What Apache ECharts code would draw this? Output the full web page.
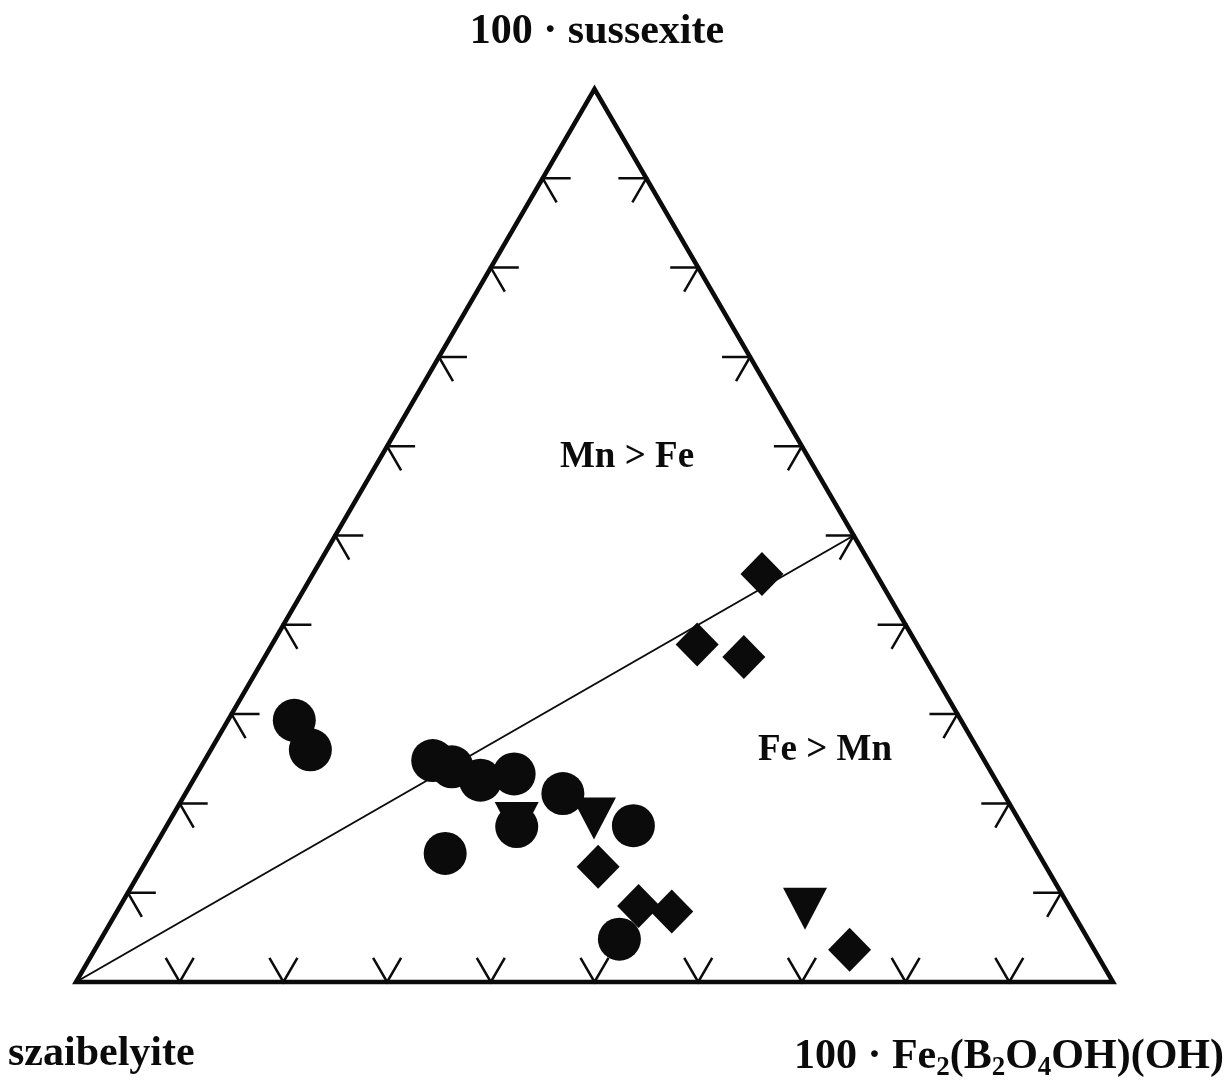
<!DOCTYPE html>
<html>
<head>
<meta charset="utf-8">
<script src="https://cdn.jsdelivr.net/npm/echarts@6/dist/echarts.min.js"></script>
<style>
  html, body { margin: 0; padding: 0; background: #ffffff; }
  #chart { width: 1229px; height: 1082px; }
</style>
</head>
<body>
<div id="chart"></div>
<script>
// Compositions in mol %: [sussexite, Fe2(B2O4OH)(OH)]; szaibelyite is the remainder.
const circles = [
  [29.3, 6.4], [26.0, 9.6], [24.8, 22.0], [24.1, 24.2], [22.6, 27.7], [23.3, 30.6],
  [21.1, 36.4], [17.5, 45.0], [17.4, 33.8], [14.4, 28.4], [4.8, 50.0]
];
const triangles = [[17.8, 33.6], [18.3, 40.8], [8.2, 66.2]];
const diamonds = [
  [45.7, 43.3], [37.8, 41.0], [36.4, 46.2], [12.9, 43.9], [8.5, 50.0], [7.9, 53.5], [3.6, 72.8]
];
// Tick positions along each edge (percent)
const tickValues = [10, 20, 30, 40, 50, 60, 70, 80, 90];
// Mn = Fe divide: from the szaibelyite corner to the middle of the opposite edge
const mnFeLine = [[0, 0], [50, 50]];
// Corners: szaibelyite, Fe end-member, sussexite
const corners = [[0, 0], [0, 100], [100, 0]];

const INK = '#0b0b0b';
const TICK_ARM = 2.7; // percent along the grid directions

// [sussexite %, Fe %] -> plane coordinates (equilateral layout)
function toXY(p) {
  const s = p[0], f = p[1];
  return [(f + s / 2) / 100, s / 100];
}

// Each tick: [edge, value]; edge 0 = base, 1 = left side, 2 = right side
const tickData = [];
for (let e = 0; e < 3; e++) tickValues.forEach(v => tickData.push([e, v]));

function tickPoints(edge, v) {
  const a = TICK_ARM;
  if (edge === 0) {          // base: Fe = v, arms along both sides (V)
    return [[a, v], [0, v], [a, v - a]];
  } else if (edge === 1) {   // left side: sussexite = v
    return [[v, a], [v, 0], [v - a, a]];
  } else {                   // right side: sussexite = v
    return [[v, 100 - v - a], [v, 100 - v], [v - a, 100 - v]];
  }
}

const chart = echarts.init(document.getElementById('chart'), null, { renderer: 'canvas' });

const font = '"Liberation Serif", "Times New Roman", serif';
const markerStyle = { color: INK, opacity: 1 };

chart.setOption({
  backgroundColor: '#ffffff',
  animation: false,
  grid: { left: 76, right: 116, top: 89, bottom: 100 },
  xAxis: { type: 'value', min: 0, max: 1, show: false },
  yAxis: { type: 'value', min: 0, max: 1, show: false },
  series: [
    {
      // triangle frame
      type: 'custom',
      data: [0],
      silent: true,
      z: 3,
      renderItem: function (params, api) {
        const pts = corners.map(c => api.coord(toXY(c)));
        return {
          type: 'polygon',
          shape: { points: pts },
          style: { fill: null, stroke: INK, lineWidth: 4.5, lineJoin: 'miter', miterLimit: 4 }
        };
      }
    },
    {
      // edge ticks
      type: 'custom',
      data: tickData,
      silent: true,
      z: 3,
      renderItem: function (params, api) {
        const edge = api.value(0), v = api.value(1);
        const pts = tickPoints(edge, v).map(p => api.coord(toXY(p)));
        return {
          type: 'polyline',
          shape: { points: pts },
          style: { fill: null, stroke: INK, lineWidth: 2.5, lineJoin: 'miter' }
        };
      }
    },
    {
      type: 'line',
      data: mnFeLine.map(toXY),
      symbol: 'none',
      silent: true,
      z: 2,
      lineStyle: { color: INK, width: 2, opacity: 1 }
    },
    {
      type: 'scatter',
      data: triangles.map(toXY),
      symbol: 'triangle',
      symbolRotate: 180,
      symbolSize: [44, 42],
      z: 4,
      itemStyle: markerStyle
    },
    {
      type: 'scatter',
      data: circles.map(toXY),
      symbol: 'circle',
      symbolSize: 43,
      z: 5,
      itemStyle: markerStyle
    },
    {
      type: 'scatter',
      data: diamonds.map(toXY),
      symbol: 'diamond',
      symbolSize: [43, 44],
      z: 5,
      itemStyle: markerStyle
    }
  ],
  graphic: [
    {
      type: 'text', x: 597, y: 32,
      style: {
        text: '100 · sussexite', font: 'bold 42px ' + font, fill: INK,
        textAlign: 'center', textVerticalAlign: 'middle', align: 'center', verticalAlign: 'middle'
      }
    },
    {
      type: 'text', x: 8, y: 1054,
      style: {
        text: 'szaibelyite', font: 'bold 42px ' + font, fill: INK,
        textAlign: 'left', textVerticalAlign: 'middle', align: 'left', verticalAlign: 'middle'
      }
    },
    {
      type: 'text', x: 1224, y: 1054,
      style: {
        text: '{m|100 · Fe}{s|2}{m|(B}{s|2}{m|O}{s|4}{m|OH)(OH)}',
        fill: INK,
        textAlign: 'right', textVerticalAlign: 'middle', align: 'right', verticalAlign: 'middle',
        rich: {
          m: { fontFamily: font, fontWeight: 'bold', fontSize: 42, lineHeight: 48, verticalAlign: 'bottom', fill: INK, color: INK },
          s: { fontFamily: font, fontWeight: 'bold', fontSize: 27, lineHeight: 27, verticalAlign: 'bottom', padding: [0, 0, -4, 0], fill: INK, color: INK }
        }
      }
    },
    {
      type: 'text', x: 627, y: 457,
      style: {
        text: 'Mn > Fe', font: 'bold 37px ' + font, fill: INK,
        textAlign: 'center', textVerticalAlign: 'middle', align: 'center', verticalAlign: 'middle'
      }
    },
    {
      type: 'text', x: 825, y: 750,
      style: {
        text: 'Fe > Mn', font: 'bold 37px ' + font, fill: INK,
        textAlign: 'center', textVerticalAlign: 'middle', align: 'center', verticalAlign: 'middle'
      }
    }
  ]
});
</script>
</body>
</html>
